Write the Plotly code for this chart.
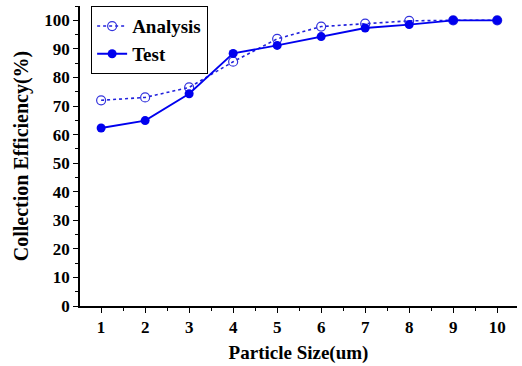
import plotly.graph_objects as go

particle_size = [1, 2, 3, 4, 5, 6, 7, 8, 9, 10]
analysis = [72, 73, 76.5, 85.5, 93.5, 97.8, 98.8, 99.8, 100, 100]
test = [62.3, 64.9, 74.3, 88.4, 91.2, 94.3, 97.3, 98.5, 100, 100]
y_ticks = [0, 10, 20, 30, 40, 50, 60, 70, 80, 90, 100]

font_family = "Liberation Serif"

fig = go.Figure()
fig.add_trace(go.Scatter(
    x=particle_size, y=analysis, name="<b>Analysis</b>", mode="lines+markers",
    line=dict(color="#2222dd", width=1.6, dash="dot"),
    marker=dict(symbol="circle-open", size=9, color="#3333dd", line=dict(width=1.2)),
))
fig.add_trace(go.Scatter(
    x=particle_size, y=test, name="<b>Test</b>", mode="lines+markers",
    line=dict(color="#0000ee", width=1.8),
    marker=dict(symbol="circle", size=9, color="#0000ee"),
))

fig.update_layout(
    width=522, height=366,
    margin=dict(l=80, r=5, t=6, b=60, autoexpand=False),
    plot_bgcolor="white", paper_bgcolor="white",
    font=dict(family=font_family, color="black", size=17),
    showlegend=True,
    legend=dict(
        x=0.025, y=1.0, xanchor="left", yanchor="top",
        bordercolor="black", borderwidth=1.2, bgcolor="white",
        font=dict(family=font_family, size=19, color="black"),
        tracegroupgap=0, itemwidth=30,
    ),
    xaxis=dict(
        range=[0.52, 10.45], tickvals=particle_size,
        ticktext=[f"<b>{v}</b>" for v in particle_size],
        tickfont=dict(size=17),
        showline=True, linecolor="black", linewidth=1.5,
        ticks="outside", ticklen=5, tickwidth=1.3, tickcolor="black",
        minor=dict(ticks="outside", dtick=0.5, tick0=0.5, ticklen=3, tickcolor="black", tickwidth=1.2),
        showgrid=False, zeroline=False, mirror=False,
        title=dict(text="<b>Particle Size(um)</b>", font=dict(size=19, family=font_family), standoff=10),
    ),
    yaxis=dict(
        range=[0, 105], tickvals=y_ticks,
        ticktext=[f"<b>{v}</b>" for v in y_ticks],
        tickfont=dict(size=17),
        showline=True, linecolor="black", linewidth=1.5,
        ticks="outside", ticklen=5, tickwidth=1.3, tickcolor="black",
        minor=dict(ticks="outside", dtick=5, tick0=0, ticklen=3, tickcolor="black", tickwidth=1.2),
        showgrid=False, zeroline=False,
        title=dict(text="<b>Collection Efficiency(%)</b>", font=dict(size=20, family=font_family), standoff=10),
    ),
)

fig.write_html("out.html")
